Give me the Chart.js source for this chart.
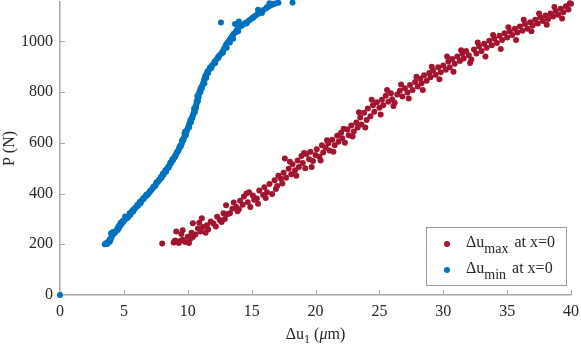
<!DOCTYPE html>
<html lang="en">
<head>
<meta charset="UTF-8">
<title>P vs Δu1</title>
<script src="https://cdn.jsdelivr.net/npm/chart.js@4"></script>
<style>
  html, body { margin: 0; padding: 0; background: #fff; }
  #wrap { width: 581px; height: 346px; position: relative; }
</style>
</head>
<body>
<div id="wrap"><canvas id="chart"></canvas></div>
<script>
// values: [Δu1 (µm), P (N)]
const uMaxPts = [
  [8.0,203],[8.9,207],[9.0,215],[9.1,250],[9.2,210],[9.3,205],[9.4,213],[9.6,255],[9.6,218],[9.8,209],
  [10.0,230],[10.2,222],[10.3,245],[10.4,229],[10.4,283],[10.6,238],[10.8,262],[11.0,250],[11.1,303],[11.2,268],
  [11.5,275],[11.6,258],[11.8,290],[12.0,282],[12.3,308],[12.5,296],[12.65,288],[12.8,322],[13.0,354],[13.1,318],
  [13.3,322],[13.5,340],[13.8,347],[13.9,330],[14.1,372],[14.3,356],[14.4,388],[14.6,400],[14.7,366],[14.9,347],
  [15.1,392],[15.2,375],[15.4,380],[15.6,412],[15.9,394],[16.0,425],[16.2,405],[16.4,438],[16.6,398],[16.8,452],
  [17.0,430],[17.1,470],[17.3,458],[17.5,482],[17.6,538],[17.7,462],[17.9,498],[18.1,476],[18.2,515],[18.4,492],
  [18.6,530],[18.7,505],[18.9,548],[19.0,520],[19.2,500],[19.3,556],[19.5,535],[19.6,565],[19.8,528],[20.0,552],
  [20.1,575],[20.3,545],[20.5,590],[20.6,562],[20.8,580],[21.0,598],[21.1,570],[21.3,612],[21.5,590],[21.7,628],
  [21.8,604],[22.0,640],[22.1,618],[22.3,600],[22.5,652],[22.6,630],[22.8,668],[23.0,645],[23.2,680],[23.3,660],
  [23.5,700],[23.6,672],[23.8,718],[24.0,690],[24.1,735],[24.3,705],[24.5,748],[24.6,722],[24.8,760],[25.0,738],
  [25.2,770],[25.3,748],[25.5,785],[25.7,762],[25.9,795],[26.0,772],[26.2,758],[26.4,790],[26.6,805],[26.8,782],
  [27.0,815],[27.2,798],[27.4,828],[27.6,808],[27.8,840],[28.0,822],[28.2,852],[28.3,835],[28.5,866],[28.7,845],
  [28.9,875],[29.0,858],[29.2,885],[29.4,868],[29.6,898],[29.8,878],[30.0,905],[30.2,888],[30.4,920],[30.5,898],
  [30.7,930],[30.9,912],[31.1,940],[31.3,922],[31.5,952],[31.6,932],[31.8,962],[32.0,945],[32.2,928],[32.4,968],
  [32.6,952],[32.8,980],[33.0,962],[33.2,990],[33.4,975],[33.6,1002],[33.8,985],[34.0,1010],[34.2,993],[34.4,1022],
  [34.6,1005],[34.8,1032],[35.0,1015],[35.2,1040],[35.4,1025],[35.6,1050],[35.8,1035],[36.0,1058],[36.2,1042],[36.4,1068],
  [36.6,1050],[36.8,1075],[37.0,1062],[37.2,1085],[37.4,1070],[37.6,1095],[37.8,1080],[38.0,1102],[38.2,1088],[38.4,1110],
  [38.6,1098],[38.8,1120],[39.0,1105],[39.2,1128],[39.4,1115],[39.6,1138],[39.8,1125],[40.0,1148],
  [9.5,240],[10.1,205],[10.9,285],[11.4,245],[12.2,270],[12.9,300],[13.6,365],[14.0,338],[14.8,405],[15.5,360],
  [16.1,382],[16.9,418],[17.4,440],[18.0,525],[18.5,470],[19.1,560],[19.7,505],[20.4,530],[20.9,610],[21.4,565],
  [22.2,655],[22.9,625],[23.4,720],[23.9,660],[24.4,770],[25.1,712],[25.6,808],[26.1,745],[26.7,830],[27.3,775],
  [27.9,860],[28.4,808],[29.1,900],[29.7,850],[30.3,940],[30.8,880],[31.4,965],[32.1,915],[32.7,995],[33.3,940],
  [33.9,1025],[34.5,970],[35.1,1055],[35.7,1005],[36.3,1085],[36.9,1040],[37.5,1110],[38.1,1065],[38.7,1135],[39.3,1090],
  [39.9,1150]
];

const uMinPts = [
  [0,0],
  [3.5,200],[3.6,203],[3.7,201],[3.75,207],[3.8,212],[3.9,210],[3.95,218],[4.0,224],[4.05,230],[4.1,236],
  [4.0,243],[4.15,248],[4.3,246],[4.4,252],[4.5,255],[4.6,262],[4.55,268],[4.7,272],[4.8,278],[4.75,285],
  [4.95,288],[5.0,294],[5.1,298],[5.2,303],[5.1,309],[5.35,310],[5.5,315],[5.45,322],[5.6,328],[5.75,330],
  [5.8,338],[5.9,344],[6.0,348],[6.05,355],[6.15,358],[6.3,362],[6.25,368],[6.4,372],[6.55,378],[6.6,384],
  [6.7,388],[6.85,394],[6.9,400],[7.0,404],[7.05,410],[7.15,414],[7.25,420],[7.3,426],[7.45,430],[7.5,437],
  [7.6,442],[7.7,448],[7.75,454],[7.85,458],[7.95,462],[8.0,470],[8.1,474],[8.15,481],[8.3,486],[8.3,493],
  [8.4,498],[8.5,503],[8.55,509],[8.6,515],[8.7,520],[8.75,527],[8.85,532],[8.9,539],[9.0,544],[9.05,550],
  [9.1,556],[9.15,563],[9.25,568],[9.3,575],[9.35,582],[9.4,588],[9.5,594],[9.55,600],[9.55,607],[9.6,613],
  [9.7,618],[9.75,625],[9.8,632],[9.75,638],[9.9,643],[9.95,650],[10.0,656],[10.05,663],[10.1,670],[10.15,676],
  [10.25,682],[10.2,689],[10.3,695],[10.35,702],[10.4,708],[10.45,715],[10.5,722],[10.55,728],[10.5,735],[10.6,742],
  [10.65,748],[10.7,755],[10.7,762],[10.75,770],[10.8,777],[10.75,784],[10.85,790],[10.9,797],[10.95,805],[11.0,812],
  [11.05,820],[11.15,826],[11.2,834],[11.25,842],[11.3,850],[11.35,858],[11.4,866],[11.5,874],[11.55,882],[11.7,890],
  [11.75,898],[11.9,905],[12.0,912],[12.1,920],[12.25,928],[12.35,936],[12.45,943],[12.6,950],[12.7,958],[12.8,965],
  [12.85,972],[12.95,980],[13.0,987],[13.1,994],[13.2,1000],[13.3,1008],[13.4,1015],[13.5,1022],[13.6,1030],[13.75,1036],
  [13.8,1042],[13.9,1048],[14.0,1055],[14.2,1060],[14.35,1066],[14.5,1072],[14.7,1078],[14.85,1084],[15.0,1090],[15.15,1096],
  [15.3,1101],[15.45,1107],[15.65,1113],[15.8,1118],[15.95,1124],[16.15,1130],[16.3,1136],[16.5,1141],[16.7,1146],[16.9,1150],
  [17.1,1152],[13.7,1068],[14.0,1078],[15.5,1124],[16.4,1150],[12.6,1074],[18.2,1153],
  [3.65,205],[3.9,220],[4.2,240],[4.45,258],[4.65,275],[4.9,292],[5.3,305],[5.55,322],[5.7,335],[6.1,352],
  [6.35,370],[6.5,380],[6.75,395],[7.1,412],[7.35,428],[7.55,444],[7.9,465],[8.05,478],[8.25,492],[8.45,505],
  [8.65,522],[8.8,535],[9.0,548],[9.2,565],[9.45,585],[9.65,610],[9.85,630],[9.8,645],[10.1,660],[10.2,680],
  [10.35,698],[10.55,720],[10.65,738],[10.8,765],[10.85,780],[11.0,800],[11.1,815],[11.3,835],[11.45,855],[11.6,875],
  [11.85,895],[12.15,915],[12.4,935],[12.75,955],[13.05,975],[13.3,995],[13.55,1010],[13.95,1040],[14.6,1070],[15.1,1092],
  [15.8,1112],[16.2,1134],[16.6,1148]
];

const xTicks = [0, 5, 10, 15, 20, 25, 30, 35, 40];
const yTicks = [0, 200, 400, 600, 800, 1000];
const seriesNames = [['Δu', 'max', ' at x=0'], ['Δu', 'min', ' at x=0']];
const seriesColors = ['#A2142F', '#0072BD'];

const FONT = "'Liberation Serif', 'Times New Roman', serif";
const TEXT = '#262626';
const AXIS = '#a6a6a6';

// inward ticks, x label with subscript and the legend box
const extras = {
  id: 'extras',
  afterDraw(chart) {
    const { ctx, chartArea: a, scales: { x, y } } = chart;
    ctx.save();
    ctx.strokeStyle = AXIS;
    ctx.lineWidth = 1;
    ctx.beginPath();
    xTicks.slice(1).forEach(v => {
      const px = Math.round(x.getPixelForValue(v)) + 0.5;
      ctx.moveTo(px, a.bottom); ctx.lineTo(px, a.bottom - 5);
    });
    yTicks.slice(1).forEach(v => {
      const py = Math.round(y.getPixelForValue(v)) + 0.5;
      ctx.moveTo(a.left, py); ctx.lineTo(a.left + 5, py);
    });
    ctx.stroke();

    // x axis title: Δu1 (μm)
    ctx.fillStyle = TEXT;
    ctx.textBaseline = 'alphabetic';
    ctx.textAlign = 'left';
    const parts = [
      ['Δu', '16px ' + FONT, 0],
      ['1', '12px ' + FONT, 4],
      [' (', '16px ' + FONT, 0],
      ['μ', 'italic 16px ' + FONT, 0],
      ['m)', '16px ' + FONT, 0]
    ];
    let w = 0;
    parts.forEach(p => { ctx.font = p[1]; w += ctx.measureText(p[0]).width; });
    let tx = (a.left + a.right) / 2 - w / 2;
    const base = 339;
    parts.forEach(p => {
      ctx.font = p[1];
      ctx.fillText(p[0], tx, base + p[2]);
      tx += ctx.measureText(p[0]).width;
    });

    // legend
    const bx = 426, by = 227, bw = 140, bh = 58;
    ctx.fillStyle = '#fff';
    ctx.fillRect(bx, by, bw, bh);
    ctx.strokeStyle = '#9a9a9a';
    ctx.strokeRect(bx + 0.5, by + 0.5, bw, bh);
    seriesNames.forEach((name, i) => {
      const cy = by + 17 + i * 26;
      ctx.fillStyle = seriesColors[i];
      ctx.beginPath();
      ctx.arc(bx + 21, cy, 3, 0, Math.PI * 2);
      ctx.fill();
      ctx.fillStyle = TEXT;
      ctx.font = '16px ' + FONT;
      let lx = bx + 40;
      ctx.fillText(name[0], lx, cy + 3);
      lx += ctx.measureText(name[0]).width;
      ctx.font = '14px ' + FONT;
      ctx.fillText(name[1], lx, cy + 9);
      lx += ctx.measureText(name[1]).width + 2;
      ctx.font = '16px ' + FONT;
      ctx.fillText(name[2], lx, cy + 3);
    });
    ctx.restore();
  }
};

new Chart(document.getElementById('chart'), {
  type: 'scatter',
  data: {
    datasets: [
      {
        label: 'Δu max at x=0',
        data: uMaxPts.map(([u, p]) => ({ x: u, y: p })),
        backgroundColor: seriesColors[0],
        borderWidth: 0,
        pointRadius: 3,
        clip: false
      },
      {
        label: 'Δu min at x=0',
        data: uMinPts.map(([u, p]) => ({ x: u, y: p })),
        backgroundColor: seriesColors[1],
        borderWidth: 0,
        pointRadius: 3,
        clip: false
      }
    ]
  },
  options: {
    responsive: true,
    maintainAspectRatio: false,
    animation: false,
    layout: { autoPadding: false, padding: { top: 2, right: 10, left: 0, bottom: 0 } },
    plugins: {
      legend: { display: false },
      tooltip: { enabled: false }
    },
    scales: {
      x: {
        type: 'linear',
        min: 0,
        max: 40,
        afterBuildTicks: s => { s.ticks = xTicks.map(v => ({ value: v })); },
        afterFit: s => { s.height = 51; s.paddingLeft = 0; s.paddingRight = 0; },
        grid: { display: false, drawTicks: false },
        border: { display: true, color: AXIS, width: 1.5 },
        ticks: { color: TEXT, font: { family: FONT, size: 16 }, padding: 7, maxRotation: 0, callback: v => String(v) }
      },
      y: {
        type: 'linear',
        min: 0,
        max: 1155,
        afterBuildTicks: s => { s.ticks = yTicks.map(v => ({ value: v })); },
        afterFit: s => { s.width = 60; s.paddingTop = 0; s.paddingBottom = 0; },
        grid: { display: false, drawTicks: false },
        border: { display: true, color: AXIS, width: 1.5 },
        ticks: { color: TEXT, font: { family: FONT, size: 16 }, padding: 7, callback: v => String(v) },
        title: {
          display: true,
          text: 'P (N)',
          color: TEXT,
          font: { family: FONT, size: 16 },
          padding: { top: 0, bottom: 0 }
        }
      }
    }
  },
  plugins: [extras]
});
</script>
</body>
</html>
